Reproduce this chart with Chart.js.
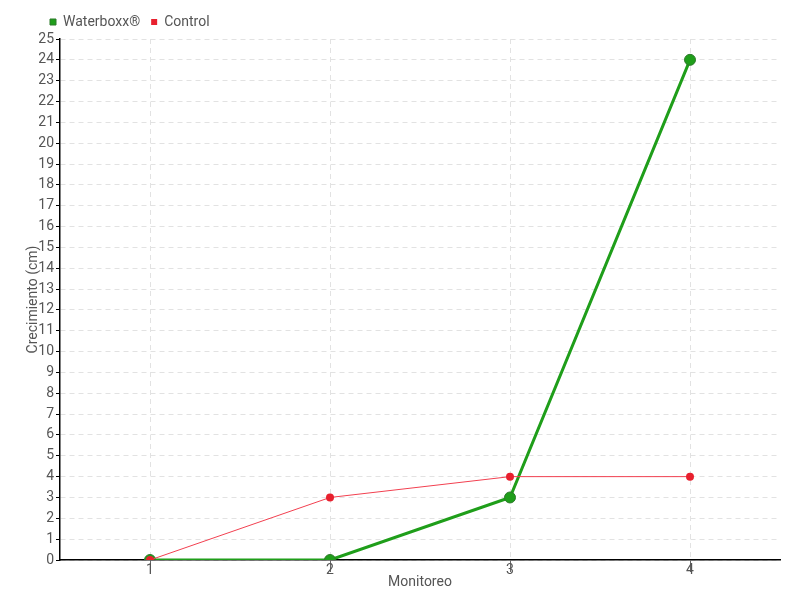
<!DOCTYPE html>
<html>
<head>
<meta charset="utf-8">
<script src="https://cdn.jsdelivr.net/npm/chart.js@4"></script>
<style>
  html, body { margin: 0; padding: 0; background: #fff; }
</style>
</head>
<body>
<canvas id="lineChart" width="800" height="600"></canvas>
<script>
const monitoreos = ['1', '2', '3', '4'];
const waterboxx = [0, 0, 3, 24];
const control = [0, 3, 4, 4];

const fontFamily = 'Roboto, "Liberation Sans", sans-serif';
Chart.defaults.font.family = fontFamily;
Chart.defaults.color = '#555';

const ctx = document.getElementById('lineChart').getContext('2d');
const lineChart = new Chart(ctx, {
    type: 'line',
    data: {
        labels: monitoreos,
        datasets: [{
            label: 'Waterboxx®',
            data: waterboxx,
            borderColor: '#1f9e1a',
            backgroundColor: '#1f9e1a',
            borderWidth: 3,
            pointRadius: 5.5,
            pointBorderWidth: 1,
            pointBorderColor: '#2c7a2a',
            pointBackgroundColor: '#1f9e1a',
            tension: 0,
            order: 1
        }, {
            label: 'Control',
            data: control,
            borderColor: '#f24050',
            backgroundColor: '#ee1b2e',
            borderWidth: 1,
            pointRadius: 4,
            pointBorderWidth: 0,
            pointBackgroundColor: '#e8202e',
            tension: 0,
            order: 0
        }]
    },
    options: {
        responsive: false,
        animation: false,
        layout: { padding: { left: 39, right: 20, top: 4, bottom: 0 } },
        plugins: {
            tooltip: { enabled: false },
            legend: {
                align: 'start',
                labels: {
                    sort: (a, b) => a.datasetIndex - b.datasetIndex,
                    usePointStyle: true,
                    pointStyle: 'rect',
                    boxWidth: 6,
                    boxHeight: 6,
                    padding: 11,
                    color: '#555',
                    font: { size: 14 }
                }
            }
        },
        scales: {
            x: {
                offset: true,
                afterFit: (axis) => { axis.height = 40; },
                grid: {
                    offset: false,
                    color: '#e2e2e2',
                    tickColor: '#666',
                    tickLength: 12
                },
                border: { color: '#000', width: 1.5, dash: [5, 4] },
                ticks: { color: '#555', font: { size: 14 }, padding: -10 },
                title: {
                    display: true,
                    text: 'Monitoreo',
                    color: '#555',
                    font: { size: 14 },
                    padding: { top: 0, bottom: 9 }
                }
            },
            y: {
                min: 0,
                max: 25,
                afterFit: (axis) => { axis.width = 21; },
                grid: {
                    color: '#e2e2e2',
                    tickColor: '#000',
                    tickLength: 4
                },
                border: { color: '#000', width: 1.5, dash: [5, 4] },
                ticks: { stepSize: 1, autoSkip: false, color: '#555', font: { size: 14 }, padding: 2 },
                title: {
                    display: true,
                    text: 'Crecimiento (cm)',
                    color: '#555',
                    font: { size: 14 },
                    padding: { top: -14, bottom: 0 }
                }
            }
        }
    }
});
</script>
</body>
</html>
